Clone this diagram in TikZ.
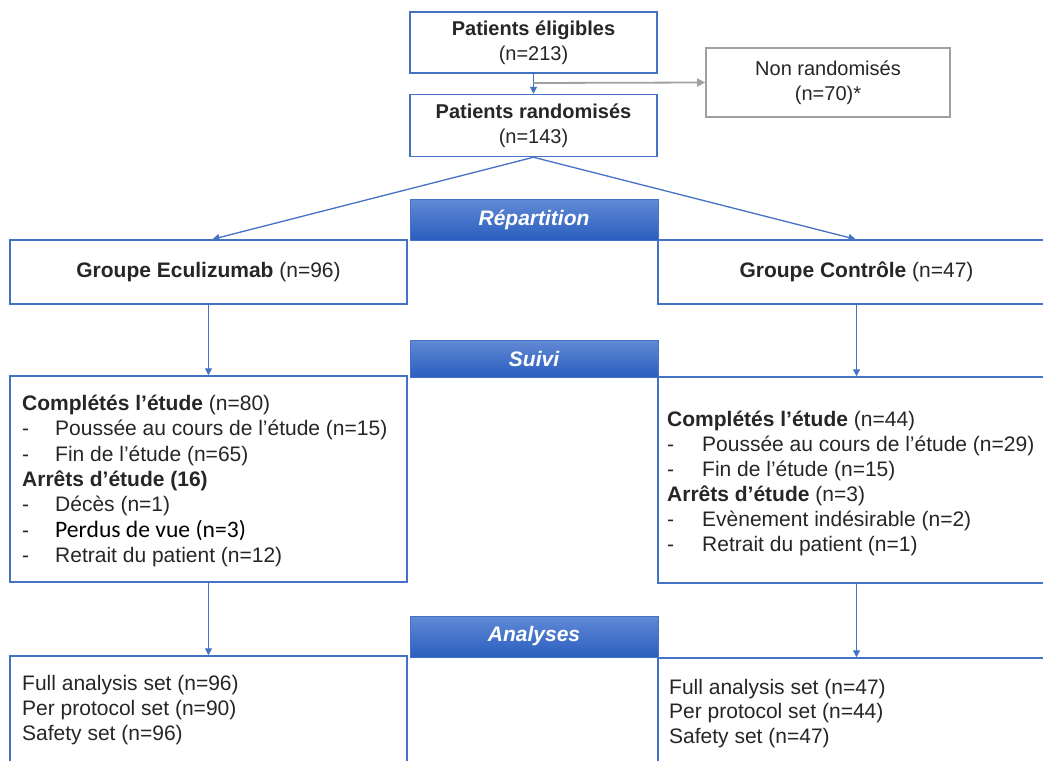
\documentclass[tikz,border=0pt]{standalone}
\usepackage{fontspec}
\setmainfont{Liberation Sans}
\newfontfamily\calib{Carlito}
\usetikzlibrary{arrows.meta}
\definecolor{boxblue}{RGB}{68,114,196}
\definecolor{txt}{RGB}{38,38,38}
\definecolor{bantop}{RGB}{98,138,214}
\definecolor{banbot}{RGB}{42,94,190}
\definecolor{graybox}{RGB}{160,160,160}
\begin{document}
\begin{tikzpicture}[x=1pt,y=-1pt,
  box/.style={draw=boxblue, line width=1.5pt, fill=white, inner sep=0pt, text=txt, align=center},
  graybx/.style={draw=graybox, line width=1.8pt, fill=white, inner sep=0pt, text=txt, align=center},
  banner/.style={top color=bantop, bottom color=banbot, draw=boxblue, line width=0.8pt,
    minimum width=248pt, inner sep=0pt, text=white, font=\fontsize{21}{25}\selectfont\bfseries\itshape},
  arr/.style={draw=boxblue, line width=1.3pt, -{Triangle[length=7pt,width=7pt]}},
  garr/.style={draw=graybox, line width=1.8pt, -{Triangle[length=8pt,width=8pt]}},
  tl/.style={anchor=base west, inner sep=0pt, text=txt, font=\fontsize{21}{25}\selectfont},
  bl/.style={anchor=base west, inner sep=0pt, text=txt, font=\fontsize{21}{25}\selectfont},
  topfont/.style={font=\fontsize{20}{25}\selectfont},
  grpfont/.style={font=\fontsize{21}{25}\selectfont}
]
\newcommand{\dashL}{\makebox[33pt][l]{-}}
\newcommand{\dashR}{\makebox[35pt][l]{-}}
\useasboundingbox (0,0) rectangle (1043,760);
\fill[white] (0,0) rectangle (1043,760);
\clip (0,0) rectangle (1043,760);

% top boxes
\node[box, topfont, minimum width=247pt, minimum height=61pt] (elig) at (533.5,42.5)
  {{\bfseries Patients éligibles}\\(n=213)};
\node[box, topfont, minimum width=247pt, minimum height=62pt] (rand) at (533.5,125.5)
  {{\bfseries Patients randomisés}\\(n=143)};
\node[graybx, topfont, minimum width=244pt, minimum height=69pt] (nonr) at (828,82.5)
  {Non randomisés\\(n=70)*};

% group boxes
\node[box, grpfont, minimum width=397pt, minimum height=64pt] (geculi) at (208.5,272)
  {{\bfseries Groupe Eculizumab} (n=96)};
\node[box, grpfont, minimum width=397pt, minimum height=64pt] (gctrl) at (856.5,272)
  {{\bfseries Groupe Contrôle} (n=47)};

% follow-up boxes
\node[box, minimum width=397pt, minimum height=206pt] (mleft) at (208.5,479) {};
\node[box, minimum width=397pt, minimum height=206pt] (mright) at (856.5,480) {};

% analysis boxes
\node[box, minimum width=397pt, minimum height=124pt] (bleft) at (208.5,718) {};
\node[box, minimum width=397pt, minimum height=124pt] (bright) at (856.5,720) {};

% banners
\node[banner, minimum height=41pt] (rep) at (534,219.5) {Répartition};
\node[banner, minimum height=37pt] (suivi) at (534,358.5) {Suivi};
\node[banner, minimum height=41pt] (ana) at (534,636.5) {Analyses};

% connectors
\coordinate (br) at (533.5,83);
\draw[arr] (elig.south) -- (rand.north);
\draw[garr] (br) -- (nonr.west);
\draw[arr] (rand.south) -- ([xshift=4pt]geculi.north);
\draw[arr] (rand.south) -- ([xshift=-1pt]gctrl.north);
\draw[arr] (geculi.south) -- (mleft.north);
\draw[arr] (gctrl.south) -- (mright.north);
\draw[arr] (mleft.south) -- (bleft.north);
\draw[arr] (mright.south) -- (bright.north);

% left follow-up text
\node[tl] (l1) at (22,410) {\textbf{Complétés l’étude} (n=80)};
\node[tl] (l2) at (22,435.5) {\dashL Poussée au cours de l’étude (n=15)};
\node[tl] (l3) at (22,461) {\dashL Fin de l’étude (n=65)};
\node[tl] (l4) at (22,486) {\textbf{Arrêts d’étude (16)}};
\node[tl] (l5) at (22,511.5) {\dashL Décès (n=1)};
\node[tl] (l6) at (22,537) {\dashL{\calib\fontsize{23.6}{25}\selectfont\color{black}Perdus de vue (n=3)}};
\node[tl] (l7) at (22,562) {\dashL Retrait du patient (n=12)};

% right follow-up text
\node[tl] (r1) at (667,426) {\textbf{Complétés l’étude} (n=44)};
\node[tl] (r2) at (667,451) {\dashR Poussée au cours de l’étude (n=29)};
\node[tl] (r3) at (667,476) {\dashR Fin de l’étude (n=15)};
\node[tl] (r4) at (667,501) {\textbf{Arrêts d’étude} (n=3)};
\node[tl] (r5) at (667,526) {\dashR Evènement indésirable (n=2)};
\node[tl] (r6) at (667,551) {\dashR Retrait du patient (n=1)};

% analysis text
\node[bl] (a1) at (22,690) {Full analysis set (n=96)};
\node[bl] (a2) at (22,715) {Per protocol set (n=90)};
\node[bl] (a3) at (22,740) {Safety set (n=96)};
\node[bl] (b1) at (669,694) {Full analysis set (n=47)};
\node[bl] (b2) at (669,718.5) {Per protocol set (n=44)};
\node[bl] (b3) at (669,743) {Safety set (n=47)};
\end{tikzpicture}
\end{document}
